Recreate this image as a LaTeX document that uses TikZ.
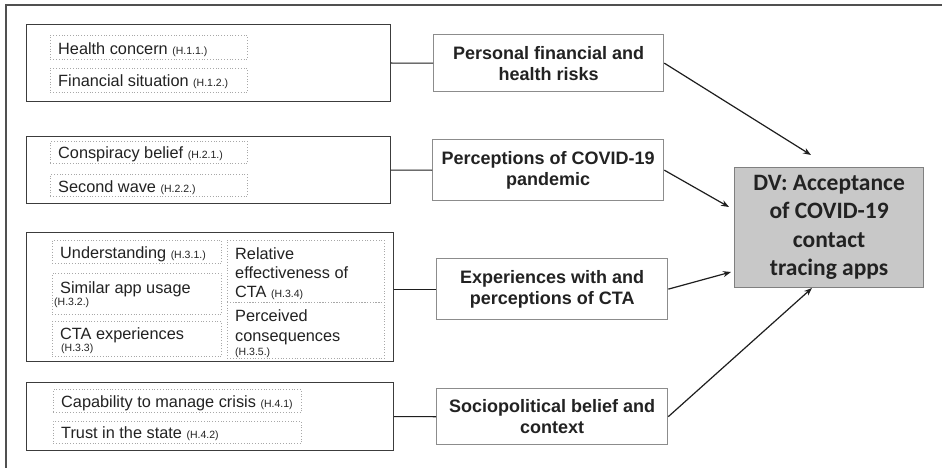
\documentclass[tikz,border=0pt]{standalone}
\usepackage{fontspec}
\setmainfont{Liberation Sans}
\newfontfamily\dvfont{Carlito}
\usetikzlibrary{arrows.meta,calc}
\definecolor{txtc}{HTML}{222222}
\definecolor{grpc}{HTML}{3C3C3C}
\definecolor{dotc}{HTML}{A8A8A8}
\definecolor{midc}{HTML}{8C8C8C}
\definecolor{linec}{HTML}{1E1E1E}
\definecolor{dvfill}{HTML}{C8C8C8}
\definecolor{dvdraw}{HTML}{808080}
\definecolor{framec}{HTML}{505050}
\newcommand\hy[1]{{\fontsize{10.5}{12}\selectfont #1}}
\begin{document}
\begin{tikzpicture}[x=1pt,y=-1pt,
 grp/.style={draw=grpc, line width=1.2pt, inner sep=0pt, anchor=north west},
 dbox/.style={draw=dotc, dotted, line width=0.8pt, inner sep=0pt, anchor=north west},
 mid/.style={draw=midc, line width=1.3pt, fill=white, inner sep=0pt, anchor=north west, align=center, font=\fontsize{18}{21}\selectfont\bfseries, text=txtc},
 lt/.style={inner sep=0pt, anchor=base west, font=\fontsize{16.3}{19}\selectfont, text=txtc},
 st/.style={inner sep=0pt, anchor=base west, font=\fontsize{10.5}{12}\selectfont, text=txtc},
 link/.style={draw=linec, line width=1.2pt},
 arr/.style={link, -{Stealth[length=8pt,width=6pt]}}
]
\useasboundingbox (0,0) rectangle (942,468);
\fill[white] (0,0) rectangle (942,468);
\draw[draw=framec, line width=1.6pt] (6,5) rectangle (960,490);

% group boxes
\node[grp, minimum width=364pt, minimum height=77pt] (g1) at (26,24) {};
\node[grp, minimum width=364pt, minimum height=67pt] (g2) at (26,136) {};
\node[grp, minimum width=367pt, minimum height=129pt] (g3) at (26,232) {};
\node[grp, minimum width=367pt, minimum height=68pt] (g4) at (26,382) {};

% dotted boxes
\node[dbox, minimum width=197pt, minimum height=24pt] (hc) at (50,35) {};
\node[dbox, minimum width=197pt, minimum height=24pt] (fs) at (50,68) {};
\node[dbox, minimum width=197pt, minimum height=22pt] (cb) at (50,141) {};
\node[dbox, minimum width=197pt, minimum height=22pt] (sw) at (50,174) {};
\node[dbox, minimum width=169pt, minimum height=23pt] (un) at (52,240) {};
\node[dbox, minimum width=169pt, minimum height=41pt] (sa) at (52,273) {};
\node[dbox, minimum width=169pt, minimum height=35pt] (ce) at (52,321) {};
\node[dbox, minimum width=157pt, minimum height=62pt] (re) at (227,240) {};
\node[dbox, minimum width=157pt, minimum height=56pt] (pc) at (227,302) {};
\node[dbox, minimum width=248pt, minimum height=23pt] (cm) at (53,389) {};
\node[dbox, minimum width=248pt, minimum height=22pt] (ts) at (53,421) {};

% texts
\node[lt] (hct) at (58,55) {Health concern \hy{(H.1.1.)}};
\node[lt] (fst) at (58,87) {Financial situation \hy{(H.1.2.)}};
\node[lt] (cbt) at (58,158.5) {Conspiracy belief \hy{(H.2.1.)}};
\node[lt] (swt) at (58,192) {Second wave \hy{(H.2.2.)}};
\node[lt] (unt) at (60,258) {Understanding \hy{(H.3.1.)}};
\node[lt] (sat) at (60,293) {Similar app usage};
\node[st] (sah) at (54,305) {(H.3.2.)};
\node[lt] (cet) at (60,339) {CTA experiences};
\node[st] (ceh) at (61,351) {(H.3.3)};
\node[lt] (re1) at (235,259) {Relative};
\node[lt] (re2) at (235,278) {effectiveness of};
\node[lt] (re3) at (235,297) {CTA \hy{(H.3.4)}};
\node[lt] (pc1) at (235,321) {Perceived};
\node[lt] (pc2) at (235,341) {consequences};
\node[st] (pc3) at (235,355) {(H.3.5.)};
\node[lt] (cmt) at (61,407) {Capability to manage crisis \hy{(H.4.1)}};
\node[lt] (tst) at (61,438) {Trust in the state \hy{(H.4.2)}};

% middle boxes
\node[mid, minimum width=230pt, minimum height=57pt] (p1) at (433,34) {Personal financial and\\health risks};
\node[mid, minimum width=231pt, minimum height=61pt] (p2) at (432,139) {Perceptions of COVID-19\\pandemic};
\node[mid, minimum width=231pt, minimum height=61pt] (e3) at (436,258) {Experiences with and\\perceptions of CTA};
\node[mid, minimum width=231pt, minimum height=56pt] (s4) at (436,388) {Sociopolitical belief and\\context};

% DV box
\node[draw=dvdraw, line width=1.2pt, fill=dvfill, inner sep=0pt, anchor=north west, minimum width=189pt, minimum height=120pt, align=center, text=txtc, font=\dvfont\bfseries\fontsize{23.5}{28.5}\selectfont] (dv) at (734,167) {DV: Acceptance\\of COVID-19\\contact\\tracing apps};

% connectors
\draw[link] (g1.east) -- (p1.west);
\draw[link] (g2.east) -- (p2.west);
\draw[link] (e3.west -| g3.east) -- (e3.west);
\draw[link] (g4.east) -- (s4.west);

\coordinate (a1) at (811,155);
\coordinate (a2) at (729,207);
\coordinate (a3) at (731,272);
\coordinate (a4) at (812,288);
\draw[arr] (p1.east) -- (a1);
\draw[arr] (p2.east) -- (a2);
\draw[arr] (e3.east) -- (a3);
\draw[arr] (s4.east) -- (a4);
\end{tikzpicture}
\end{document}
